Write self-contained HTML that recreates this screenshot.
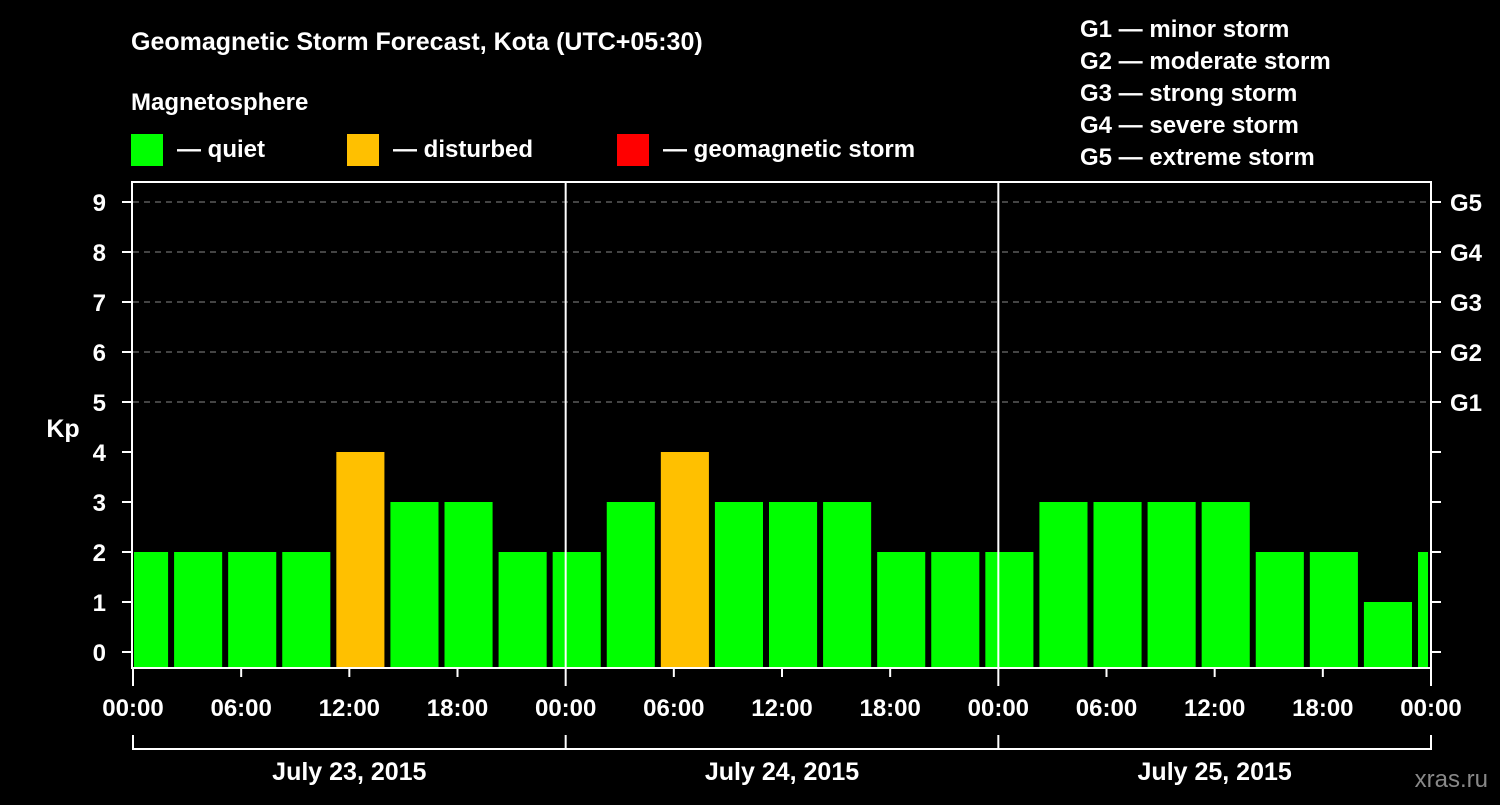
<!DOCTYPE html>
<html><head><meta charset="utf-8"><style>
body{margin:0;background:#000;}
svg text{font-family:"Liberation Sans",Arial,sans-serif;font-weight:bold;fill:#fff;}
</style></head><body>
<svg id="chart" width="1500" height="800" viewBox="0 0 1500 800">
<rect width="1500" height="800" fill="#000"/>
<text x="131" y="50" font-size="25">Geomagnetic Storm Forecast, Kota (UTC+05:30)</text>
<text x="131" y="110" font-size="24">Magnetosphere</text>
<g><rect x="131" y="134" width="32" height="32" fill="#00ff00"/><text x="177" y="157" font-size="24">— quiet</text></g>
<g><rect x="347" y="134" width="32" height="32" fill="#ffc000"/><text x="393" y="157" font-size="24">— disturbed</text></g>
<g><rect x="617" y="134" width="32" height="32" fill="#ff0000"/><text x="663" y="157" font-size="24">— geomagnetic storm</text></g>
<g font-size="24">
<text x="1080" y="37">G1 — minor storm</text>
<text x="1080" y="69">G2 — moderate storm</text>
<text x="1080" y="101">G3 — strong storm</text>
<text x="1080" y="133">G4 — severe storm</text>
<text x="1080" y="165">G5 — extreme storm</text>
</g>
<text x="63" y="437" font-size="25" text-anchor="middle">Kp</text>
<text x="1488" y="787" font-size="24" text-anchor="end" fill="#888" style="fill:#888;font-weight:normal">xras.ru</text>
<g id="grid"></g><g id="bars"></g><g id="axes"></g>
</svg>
<script>
const kpValues=[2,2,2,2,4,3,3,2,2,3,4,3,3,3,2,2,2,3,3,3,3,2,2,1,2];
const yTicks=[0,1,2,3,4,5,6,7,8,9];
const gLabels=["G1","G2","G3","G4","G5"];
const hourLabels=["00:00","06:00","12:00","18:00"];
const dayLabels=["July 23, 2015","July 24, 2015","July 25, 2015"];
const NS="http://www.w3.org/2000/svg";
const X0=133,X1=1431,TOP=182,BOT=668,PXH=(X1-X0)/72;
const firstSlotHour=(117-X0)/PXH;
function xs(h){return X0+h*PXH;}
function ys(v){return 652-v*50;}
function mk(p,tag,at){const e=document.createElementNS(NS,tag);for(const k in at)e.setAttribute(k,at[k]);document.getElementById(p).appendChild(e);return e;}
yTicks.forEach(v=>{
 if(v>=5){const l=mk('grid','line',{x1:X0,x2:X1,y1:ys(v),y2:ys(v),stroke:'#888','stroke-dasharray':'6,5','stroke-width':1});
 
 }
 const t=mk('axes','line',{x1:122,x2:X0,y1:ys(v),y2:ys(v),stroke:'#fff','stroke-width':2});
 
 
 const r=mk('axes','line',{x1:X1,x2:1441,y1:ys(v),y2:ys(v),stroke:'#fff','stroke-width':2});
 
 
 const tx=mk('axes','text',{x:106,y:ys(v)+9,'font-size':24,'text-anchor':'end'});tx.textContent=v;
 
 
});
gLabels.forEach((g,i)=>{const tx=mk('axes','text',{x:1450,y:ys(5+i)+9,'font-size':24});tx.textContent=g;
 
 });
kpValues.forEach((v,i)=>{
 const h0=firstSlotHour+i*3;
 let a=xs(h0)+3,b=xs(h0+3)-3;a=Math.max(a,X0+1);b=Math.min(b,X1-3);
 const c=v>=5?'#ff0000':(v>=4?'#ffc000':'#00ff00');
 const r=mk('bars','rect',{x:a,y:ys(v),width:b-a,height:BOT-ys(v),fill:c});
 
 
});
mk('axes','rect',{x:X0-1,y:TOP,width:X1-X0+1,height:BOT-TOP,fill:'none',stroke:'#fff','stroke-width':2});
for(let d=1;d<3;d++){const l=mk('axes','line',{x1:xs(d*24),x2:xs(d*24),y1:TOP,y2:BOT,stroke:'#fff','stroke-width':2});
 
 }
for(let h=0;h<=72;h+=6){
 const big=h%24==0;
 mk('axes','line',{x1:xs(h),x2:xs(h),y1:BOT,y2:big?686:677,stroke:'#fff','stroke-width':2});
 const tx=mk('axes','text',{x:xs(h),y:716,'font-size':24,'text-anchor':'middle'});tx.textContent=hourLabels[(h/6)%4];
 
 
}
mk('axes','path',{d:`M${xs(0)},735V749H${xs(72)}V735`,fill:'none',stroke:'#fff','stroke-width':2});
dayLabels.forEach((d,i)=>{
 if(i>0)mk('axes','line',{x1:xs(i*24),x2:xs(i*24),y1:735,y2:749,stroke:'#fff','stroke-width':2});
 const tx=mk('axes','text',{x:xs(i*24+12),y:780,'font-size':25,'text-anchor':'middle'});tx.textContent=d;
 
 
});
</script>
</body></html>
